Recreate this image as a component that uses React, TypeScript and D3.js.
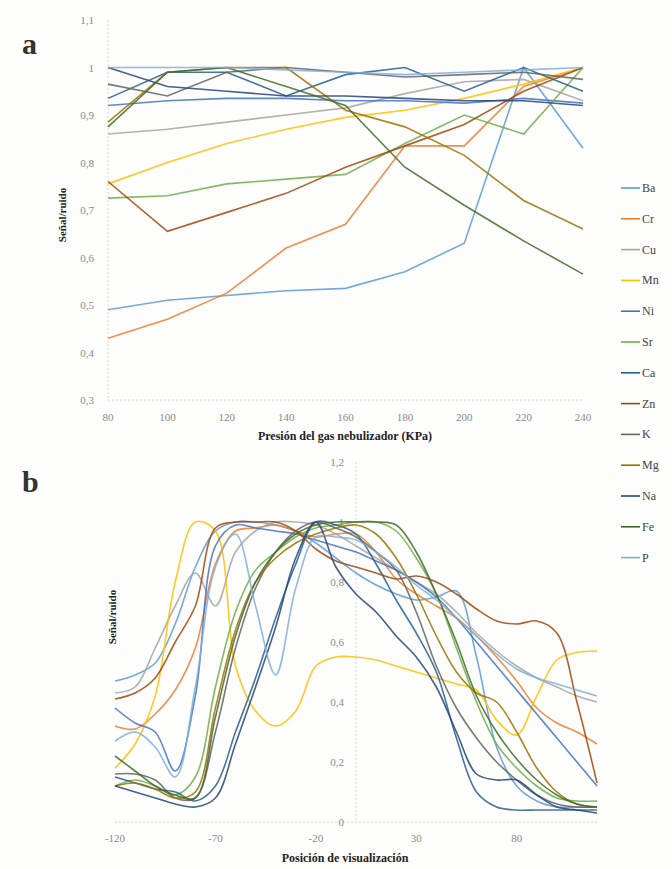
import React from "react";
import * as d3 from "d3";

const elements = ["Ba", "Cr", "Cu", "Mn", "Ni", "Sr", "Ca", "Zn", "K", "Mg", "Na", "Fe", "P"];
const colors = ["#5B9BD5", "#ED7D31", "#A5A5A5", "#FFC000", "#4472C4", "#70AD47", "#255E91", "#9E480E", "#636363", "#997300", "#264478", "#43682B", "#7CAFDD"];

// Panel a: pressure (KPa)
const pressures = [80, 100, 120, 140, 160, 180, 200, 220, 240];
const aBa = [0.49, 0.51, 0.52, 0.53, 0.535, 0.57, 0.63, 1.0, 0.83];
const aCr = [0.43, 0.47, 0.525, 0.62, 0.67, 0.835, 0.835, 0.96, 1.0];
const aCu = [0.86, 0.87, 0.885, 0.9, 0.915, 0.945, 0.97, 0.975, 0.93];
const aMn = [0.755, 0.8, 0.84, 0.87, 0.895, 0.91, 0.935, 0.965, 1.0];
const aNi = [0.92, 0.93, 0.935, 0.935, 0.93, 0.93, 0.925, 0.935, 0.925];
const aSr = [0.725, 0.73, 0.755, 0.765, 0.775, 0.84, 0.9, 0.86, 1.0];
const aCa = [0.935, 0.99, 0.99, 0.94, 0.985, 1.0, 0.95, 1.0, 0.95];
const aZn = [0.76, 0.655, 0.695, 0.735, 0.79, 0.835, 0.88, 0.95, 1.0];
const aK = [0.965, 0.94, 0.99, 1.0, 0.99, 0.98, 0.985, 0.99, 0.975];
const aMg = [0.885, 0.99, 1.0, 1.0, 0.91, 0.875, 0.815, 0.72, 0.66];
const aNa = [1.0, 0.96, 0.95, 0.94, 0.94, 0.935, 0.93, 0.93, 0.92];
const aFe = [0.875, 0.99, 1.0, 0.96, 0.92, 0.79, 0.71, 0.635, 0.565];
const aP = [1.0, 1.0, 1.0, 0.995, 0.99, 0.985, 0.99, 0.995, 1.0];
const seriesA = [aBa, aCr, aCu, aMn, aNi, aSr, aCa, aZn, aK, aMg, aNa, aFe, aP];
const aYTicks = [0.3, 0.4, 0.5, 0.6, 0.7, 0.8, 0.9, 1.0, 1.1];
const aYLabels = ["0,3", "0,4", "0,5", "0,6", "0,7", "0,8", "0,9", "1", "1,1"];

// Panel b: position
const positions = [-120, -110, -100, -90, -80, -70, -60, -50, -40, -30, -20, -10, 0, 10, 20, 30, 40, 50, 60, 70, 80, 90, 100, 110, 120];
const bBa = [0.47, 0.49, 0.53, 0.66, 0.85, 0.97, 1.0, 1.0, 0.99, 0.97, 0.93, 0.88, 0.83, 0.79, 0.76, 0.74, 0.75, 0.77, 0.55, 0.25, 0.12, 0.07, 0.05, 0.05, 0.05];
const bCr = [0.32, 0.31, 0.36, 0.44, 0.58, 0.86, 0.97, 0.98, 0.99, 0.97, 0.95, 0.96, 0.96, 0.9, 0.81, 0.76, 0.72, 0.68, 0.62, 0.55, 0.47, 0.38, 0.33, 0.3, 0.26];
const bCu = [0.43, 0.45, 0.58, 0.72, 0.83, 0.72, 0.9, 0.97, 1.0, 1.0, 0.99, 0.96, 0.92, 0.88, 0.84, 0.8, 0.76, 0.7, 0.63, 0.57, 0.52, 0.48, 0.45, 0.42, 0.4];
const bMn = [0.18, 0.26, 0.42, 0.8, 1.0, 0.97, 0.52, 0.37, 0.32, 0.37, 0.52, 0.55, 0.55, 0.54, 0.52, 0.5, 0.48, 0.46, 0.44, 0.34, 0.29, 0.42, 0.54, 0.565, 0.57];
const bNi = [0.38, 0.33, 0.3, 0.17, 0.42, 0.92, 0.99, 0.98, 0.97, 0.96, 0.94, 0.92, 0.9, 0.87, 0.84, 0.8, 0.75, 0.68, 0.6, 0.52, 0.44, 0.36, 0.28, 0.2, 0.12];
const bSr = [0.12, 0.14, 0.12, 0.09, 0.15, 0.45, 0.7, 0.84, 0.9, 0.95, 0.98, 0.99, 1.0, 1.0, 0.97, 0.88, 0.76, 0.58, 0.4, 0.26, 0.18, 0.12, 0.08, 0.07, 0.07];
const bCa = [0.15, 0.13, 0.11, 0.1, 0.07, 0.12, 0.3, 0.48, 0.68, 0.86, 1.0, 0.99, 0.96, 0.86, 0.74, 0.63, 0.5, 0.28, 0.1, 0.05, 0.04, 0.04, 0.04, 0.04, 0.04];
const bZn = [0.41, 0.43, 0.48, 0.6, 0.72, 0.98, 1.0, 1.0, 1.0, 0.97, 0.91, 0.87, 0.85, 0.83, 0.81, 0.82, 0.8, 0.76, 0.71, 0.67, 0.66, 0.67, 0.63, 0.4, 0.13];
const bK = [0.16, 0.16, 0.14, 0.08, 0.08, 0.3, 0.58, 0.78, 0.9, 0.97, 1.0, 0.98, 0.95, 0.9, 0.84, 0.7, 0.52, 0.38, 0.28, 0.2, 0.14, 0.09, 0.06, 0.05, 0.05];
const bMg = [0.12, 0.13, 0.11, 0.08, 0.1, 0.38, 0.64, 0.8, 0.88, 0.93, 0.96, 0.98, 0.99, 0.96, 0.88, 0.76, 0.62, 0.5, 0.43, 0.4, 0.3, 0.18, 0.1, 0.06, 0.05];
const bNa = [0.12, 0.1, 0.08, 0.06, 0.05, 0.08, 0.26, 0.45, 0.65, 0.88, 1.0, 0.85, 0.76, 0.7, 0.62, 0.55, 0.45, 0.3, 0.16, 0.14, 0.14, 0.09, 0.05, 0.04, 0.03];
const bFe = [0.22, 0.17, 0.12, 0.09, 0.08, 0.35, 0.62, 0.8, 0.9, 0.96, 0.99, 1.0, 1.0, 1.0, 0.99, 0.9, 0.76, 0.6, 0.42, 0.3, 0.21, 0.14, 0.09, 0.06, 0.05];
const bP = [0.27, 0.3, 0.25, 0.15, 0.45, 0.85, 0.96, 0.72, 0.49, 0.78, 0.95, 0.95, 0.94, 0.9, 0.85, 0.79, 0.74, 0.68, 0.62, 0.56, 0.51, 0.48, 0.46, 0.44, 0.42];
const seriesB = [bBa, bCr, bCu, bMn, bNi, bSr, bCa, bZn, bK, bMg, bNa, bFe, bP];
const bXTicks = [-120, -70, -20, 30, 80];
const bYTicks = [0, 0.2, 0.4, 0.6, 0.8, 1.0, 1.2];
const bYLabels = ["0", "0,2", "0,4", "0,6", "0,8", "1", "1,2"];

const FONT = '"Liberation Serif", "Times New Roman", "DejaVu Serif", serif';

export default function App() {
  // Panel a scales
  const xa = d3.scaleLinear().domain([80, 240]).range([108, 583]);
  const ya = d3.scaleLinear().domain([0.3, 1.1]).range([400, 20]);
  const lineA = d3
    .line<number>()
    .x((_, i) => xa(pressures[i]))
    .y((d) => ya(d));

  // Panel b scales
  const xb = d3.scaleLinear().domain([-120, 120]).range([115, 597]);
  const yb = d3.scaleLinear().domain([0, 1.2]).range([822, 462]);
  const lineB = d3
    .line<number>()
    .x((_, i) => xb(positions[i]))
    .y((d) => yb(d))
    .curve(d3.curveCatmullRom.alpha(0.5));

  const tickColor = "#8a8a8a";
  const axisColor = "#d8d8d8";

  return (
    <svg
      width={672}
      height={869}
      style={{ position: "absolute", left: 0, top: 0, background: "#fff", fontFamily: FONT }}
    >
      <rect x={0} y={0} width={672} height={869} fill="#fdfdfc" />

      {/* Panel labels */}
      <text x={22} y={54} fontSize={30} fontWeight="bold" fill="#333">a</text>
      <text x={22} y={492} fontSize={30} fontWeight="bold" fill="#333">b</text>

      {/* ---------- Panel a ---------- */}
      <line x1={xa(80)} x2={xa(80)} y1={ya(1.1)} y2={ya(0.3)} stroke={axisColor} strokeDasharray="2,2" />
      <line x1={xa(80)} x2={xa(240)} y1={ya(0.3)} y2={ya(0.3)} stroke={axisColor} strokeDasharray="2,2" />
      {aYTicks.map((t, i) => (
        <text key={"ay" + i} x={94} y={ya(t) + 4} fontSize={11} fill={tickColor} textAnchor="end">
          {aYLabels[i]}
        </text>
      ))}
      {pressures.map((p) => (
        <text key={"ax" + p} x={xa(p)} y={ya(0.3) + 21} fontSize={11} fill={tickColor} textAnchor="middle">
          {p}
        </text>
      ))}
      <text x={345} y={440} fontSize={12} fontWeight="bold" fill="#222" textAnchor="middle">
        Presión del gas nebulizador (KPa)
      </text>
      <text
        transform={`translate(66,${215}) rotate(-90)`}
        fontSize={11}
        fontWeight="bold"
        fill="#222"
        textAnchor="middle"
      >
        Señal/ruido
      </text>
      {seriesA.map((s, i) => (
        <path key={"la" + i} d={lineA(s) || ""} fill="none" stroke={colors[i]} strokeWidth={1.6} strokeOpacity={0.85} />
      ))}

      {/* ---------- Panel b ---------- */}
      <line x1={xb(0)} x2={xb(0)} y1={yb(1.2)} y2={yb(0)} stroke={axisColor} strokeDasharray="2,2" />
      <line x1={xb(-120)} x2={xb(120)} y1={yb(0)} y2={yb(0)} stroke={axisColor} strokeDasharray="2,2" />
      {bYTicks.map((t, i) => (
        <text key={"by" + i} x={xb(0) - 12} y={yb(t) + 4} fontSize={11} fill={tickColor} textAnchor="end">
          {bYLabels[i]}
        </text>
      ))}
      {bXTicks.map((p) => (
        <text key={"bx" + p} x={xb(p)} y={yb(0) + 20} fontSize={11} fill={tickColor} textAnchor="middle">
          {p}
        </text>
      ))}
      <text x={345} y={862} fontSize={12} fontWeight="bold" fill="#222" textAnchor="middle">
        Posición de visualización
      </text>
      <text
        transform={`translate(116,${617}) rotate(-90)`}
        fontSize={11}
        fontWeight="bold"
        fill="#222"
        textAnchor="middle"
      >
        Señal/ruido
      </text>
      {seriesB.map((s, i) => (
        <path key={"lb" + i} d={lineB(s) || ""} fill="none" stroke={colors[i]} strokeWidth={1.6} strokeOpacity={0.85} />
      ))}

      {/* ---------- Legend ---------- */}
      {elements.map((e, i) => {
        const y = 188 + i * 30.8;
        return (
          <g key={"lg" + e}>
            <line x1={621} x2={640} y1={y} y2={y} stroke={colors[i]} strokeWidth={1.6} />
            <text x={642} y={y + 4} fontSize={12} fill="#444">
              {e}
            </text>
          </g>
        );
      })}
    </svg>
  );
}
